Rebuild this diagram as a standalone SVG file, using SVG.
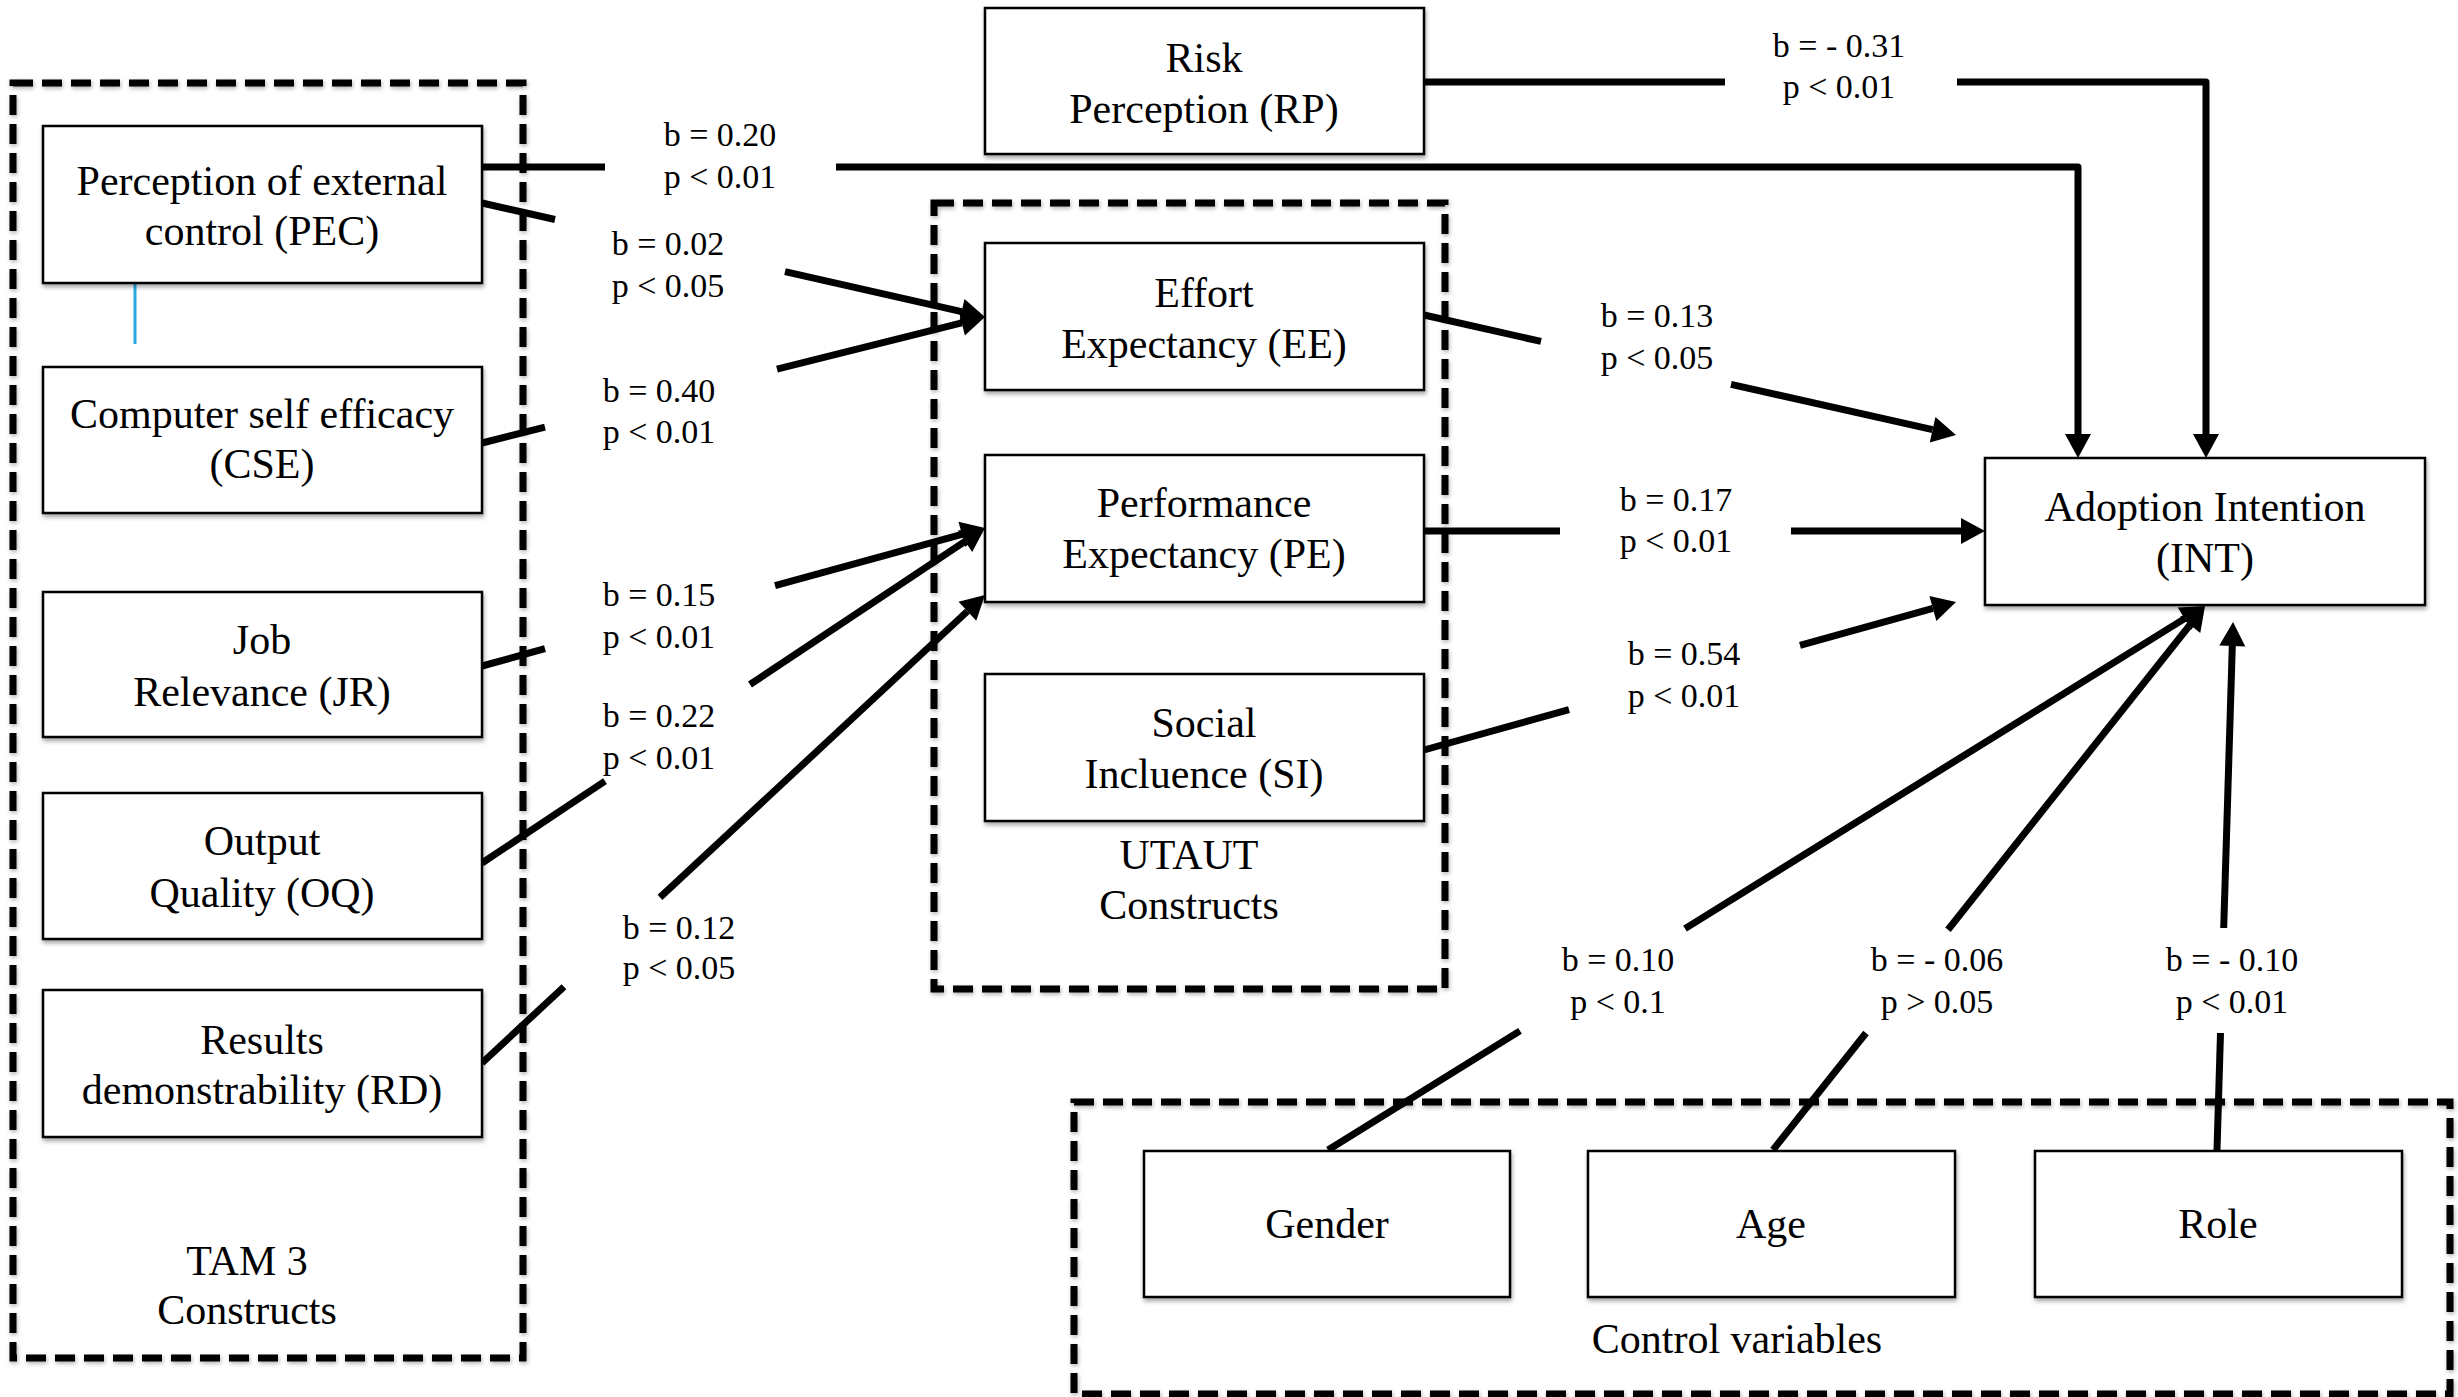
<svg xmlns="http://www.w3.org/2000/svg" width="2458" height="1397" viewBox="0 0 2458 1397">
<defs>
<style>
.bg{fill:#fff}
.node rect{fill:#fff;stroke:#000;stroke-width:2.5;filter:url(#sh)}
.t{font-family:"Liberation Serif","Times New Roman",serif;font-size:42px;fill:#000;text-anchor:middle}
.lbl{font-family:"Liberation Serif","Times New Roman",serif;font-size:34px;fill:#000;text-anchor:middle}
.grp rect{fill:none;stroke:#000;stroke-width:7;stroke-dasharray:20 9;filter:url(#sh2)}
.c{fill:none;stroke:#000;stroke-width:7;stroke-linejoin:round}
.a{marker-end:url(#ah)}
.blue{fill:none;stroke:#29abe2;stroke-width:3}
</style>
<filter id="sh" x="-5%" y="-5%" width="115%" height="130%"><feDropShadow dx="1" dy="3" stdDeviation="2" flood-color="#000" flood-opacity="0.35"/></filter>
<filter id="sh2" x="-5%" y="-5%" width="115%" height="115%"><feDropShadow dx="1" dy="2" stdDeviation="2" flood-color="#000" flood-opacity="0.3"/></filter>
<marker id="ah" markerUnits="userSpaceOnUse" markerWidth="26" markerHeight="26" refX="0" refY="13" orient="auto" overflow="visible"><path d="M0,0 L24,13 L0,26 z" fill="#000"/></marker>
</defs>
<rect class="bg" x="0" y="0" width="2458" height="1397"/>

<g id="g-tam" class="grp">
<rect x="13" y="83" width="510" height="1275"/>
<text class="t" x="247" y="1275">TAM 3</text>
<text class="t" x="247" y="1324">Constructs</text>
</g>
<g id="g-utaut" class="grp">
<rect x="934" y="203" width="511" height="786"/>
<text class="t" x="1189" y="869">UTAUT</text>
<text class="t" x="1189" y="919">Constructs</text>
</g>
<g id="g-control" class="grp">
<rect x="1074" y="1102" width="1376" height="292"/>
<text class="t" x="1737" y="1353">Control variables</text>
</g>

<g id="connectors">
<line class="blue" x1="135" y1="284" x2="135" y2="344"/>
<!-- RP -> INT -->
<path class="c" d="M1424,82 H1725"/>
<path class="c a" d="M1957,82 H2206 V434"/>
<!-- PEC -> INT -->
<path class="c" d="M482,167 H605"/>
<path class="c a" d="M836,167 H2078 V434"/>
<!-- PEC -> EE -->
<path class="c" d="M482,203 L555,219.5"/>
<path class="c a" d="M785,271.7 L961.6,311.7"/>
<!-- CSE -> EE -->
<path class="c" d="M482,443 L545,427.2"/>
<path class="c a" d="M777,369.1 L961.7,322.8"/>
<!-- JR -> PE -->
<path class="c" d="M482,666 L545,648.7"/>
<path class="c a" d="M775,585.6 L961.9,534.4"/>
<!-- OQ -> PE -->
<path class="c" d="M482,863 L605,781.1"/>
<path class="c a" d="M750,684.5 L965,541.3"/>
<!-- RD -> PE -->
<path class="c" d="M482,1063 L564,986.7"/>
<path class="c a" d="M660,897.4 L967.4,611.3"/>
<!-- EE -> INT -->
<path class="c" d="M1424,315 L1541,341.4"/>
<path class="c a" d="M1731,384.3 L1932.6,429.7"/>
<!-- PE -> INT -->
<path class="c" d="M1424,531 H1560"/>
<path class="c a" d="M1791,531 H1961"/>
<!-- SI -> INT -->
<path class="c" d="M1424,750 L1569,709.7"/>
<path class="c a" d="M1800,645.4 L1932.9,608.4"/>
<!-- Gender -> INT -->
<path class="c" d="M1328,1150 L1520,1030.9"/>
<path class="c a" d="M1685,928.6 L2184.6,618.6"/>
<!-- Age -> INT -->
<path class="c" d="M1773,1150 L1866,1033"/>
<path class="c a" d="M1948,929.7 L2190.1,624.8"/>
<!-- Role -> INT -->
<path class="c" d="M2217,1150 L2220.5,1033"/>
<path class="c a" d="M2223.7,928 L2232.3,646"/>
</g>

<g id="edge-labels">
<text class="lbl" x="720" y="146">b = 0.20</text><text class="lbl" x="720" y="188">p &lt; 0.01</text>
<text class="lbl" x="668" y="255">b = 0.02</text><text class="lbl" x="668" y="297">p &lt; 0.05</text>
<text class="lbl" x="659" y="402">b = 0.40</text><text class="lbl" x="659" y="443">p &lt; 0.01</text>
<text class="lbl" x="659" y="606">b = 0.15</text><text class="lbl" x="659" y="648">p &lt; 0.01</text>
<text class="lbl" x="659" y="727">b = 0.22</text><text class="lbl" x="659" y="769">p &lt; 0.01</text>
<text class="lbl" x="679" y="939">b = 0.12</text><text class="lbl" x="679" y="979">p &lt; 0.05</text>
<text class="lbl" x="1839" y="57">b = - 0.31</text><text class="lbl" x="1839" y="98">p &lt; 0.01</text>
<text class="lbl" x="1657" y="327">b = 0.13</text><text class="lbl" x="1657" y="369">p &lt; 0.05</text>
<text class="lbl" x="1676" y="511">b = 0.17</text><text class="lbl" x="1676" y="552">p &lt; 0.01</text>
<text class="lbl" x="1684" y="665">b = 0.54</text><text class="lbl" x="1684" y="707">p &lt; 0.01</text>
<text class="lbl" x="1618" y="971">b = 0.10</text><text class="lbl" x="1618" y="1013">p &lt; 0.1</text>
<text class="lbl" x="1937" y="971">b = - 0.06</text><text class="lbl" x="1937" y="1013">p &gt; 0.05</text>
<text class="lbl" x="2232" y="971">b = - 0.10</text><text class="lbl" x="2232" y="1013">p &lt; 0.01</text>
</g>

<g id="n-pec" class="node"><rect x="43" y="126" width="439" height="157"/>
<text class="t" x="262" y="195">Perception of external</text><text class="t" x="262" y="245">control (PEC)</text></g>
<g id="n-cse" class="node"><rect x="43" y="367" width="439" height="146"/>
<text class="t" x="262" y="428">Computer self efficacy</text><text class="t" x="262" y="478">(CSE)</text></g>
<g id="n-jr" class="node"><rect x="43" y="592" width="439" height="145"/>
<text class="t" x="262" y="654">Job</text><text class="t" x="262" y="706">Relevance (JR)</text></g>
<g id="n-oq" class="node"><rect x="43" y="793" width="439" height="146"/>
<text class="t" x="262" y="855">Output</text><text class="t" x="262" y="907">Quality (OQ)</text></g>
<g id="n-rd" class="node"><rect x="43" y="990" width="439" height="147"/>
<text class="t" x="262" y="1054">Results</text><text class="t" x="262" y="1104">demonstrability (RD)</text></g>

<g id="n-rp" class="node"><rect x="985" y="8" width="439" height="146"/>
<text class="t" x="1204" y="72">Risk</text><text class="t" x="1204" y="123">Perception (RP)</text></g>
<g id="n-ee" class="node"><rect x="985" y="243" width="439" height="147"/>
<text class="t" x="1204" y="307">Effort</text><text class="t" x="1204" y="358">Expectancy (EE)</text></g>
<g id="n-pe" class="node"><rect x="985" y="455" width="439" height="147"/>
<text class="t" x="1204" y="517">Performance</text><text class="t" x="1204" y="568">Expectancy (PE)</text></g>
<g id="n-si" class="node"><rect x="985" y="674" width="439" height="147"/>
<text class="t" x="1204" y="737">Social</text><text class="t" x="1204" y="788">Incluence (SI)</text></g>

<g id="n-int" class="node"><rect x="1985" y="458" width="440" height="147"/>
<text class="t" x="2205" y="521">Adoption Intention</text><text class="t" x="2205" y="572">(INT)</text></g>

<g id="n-gender" class="node"><rect x="1144" y="1151" width="366" height="146"/>
<text class="t" x="1327" y="1238">Gender</text></g>
<g id="n-age" class="node"><rect x="1588" y="1151" width="367" height="146"/>
<text class="t" x="1771" y="1238">Age</text></g>
<g id="n-role" class="node"><rect x="2035" y="1151" width="367" height="146"/>
<text class="t" x="2218" y="1238">Role</text></g>
</svg>
